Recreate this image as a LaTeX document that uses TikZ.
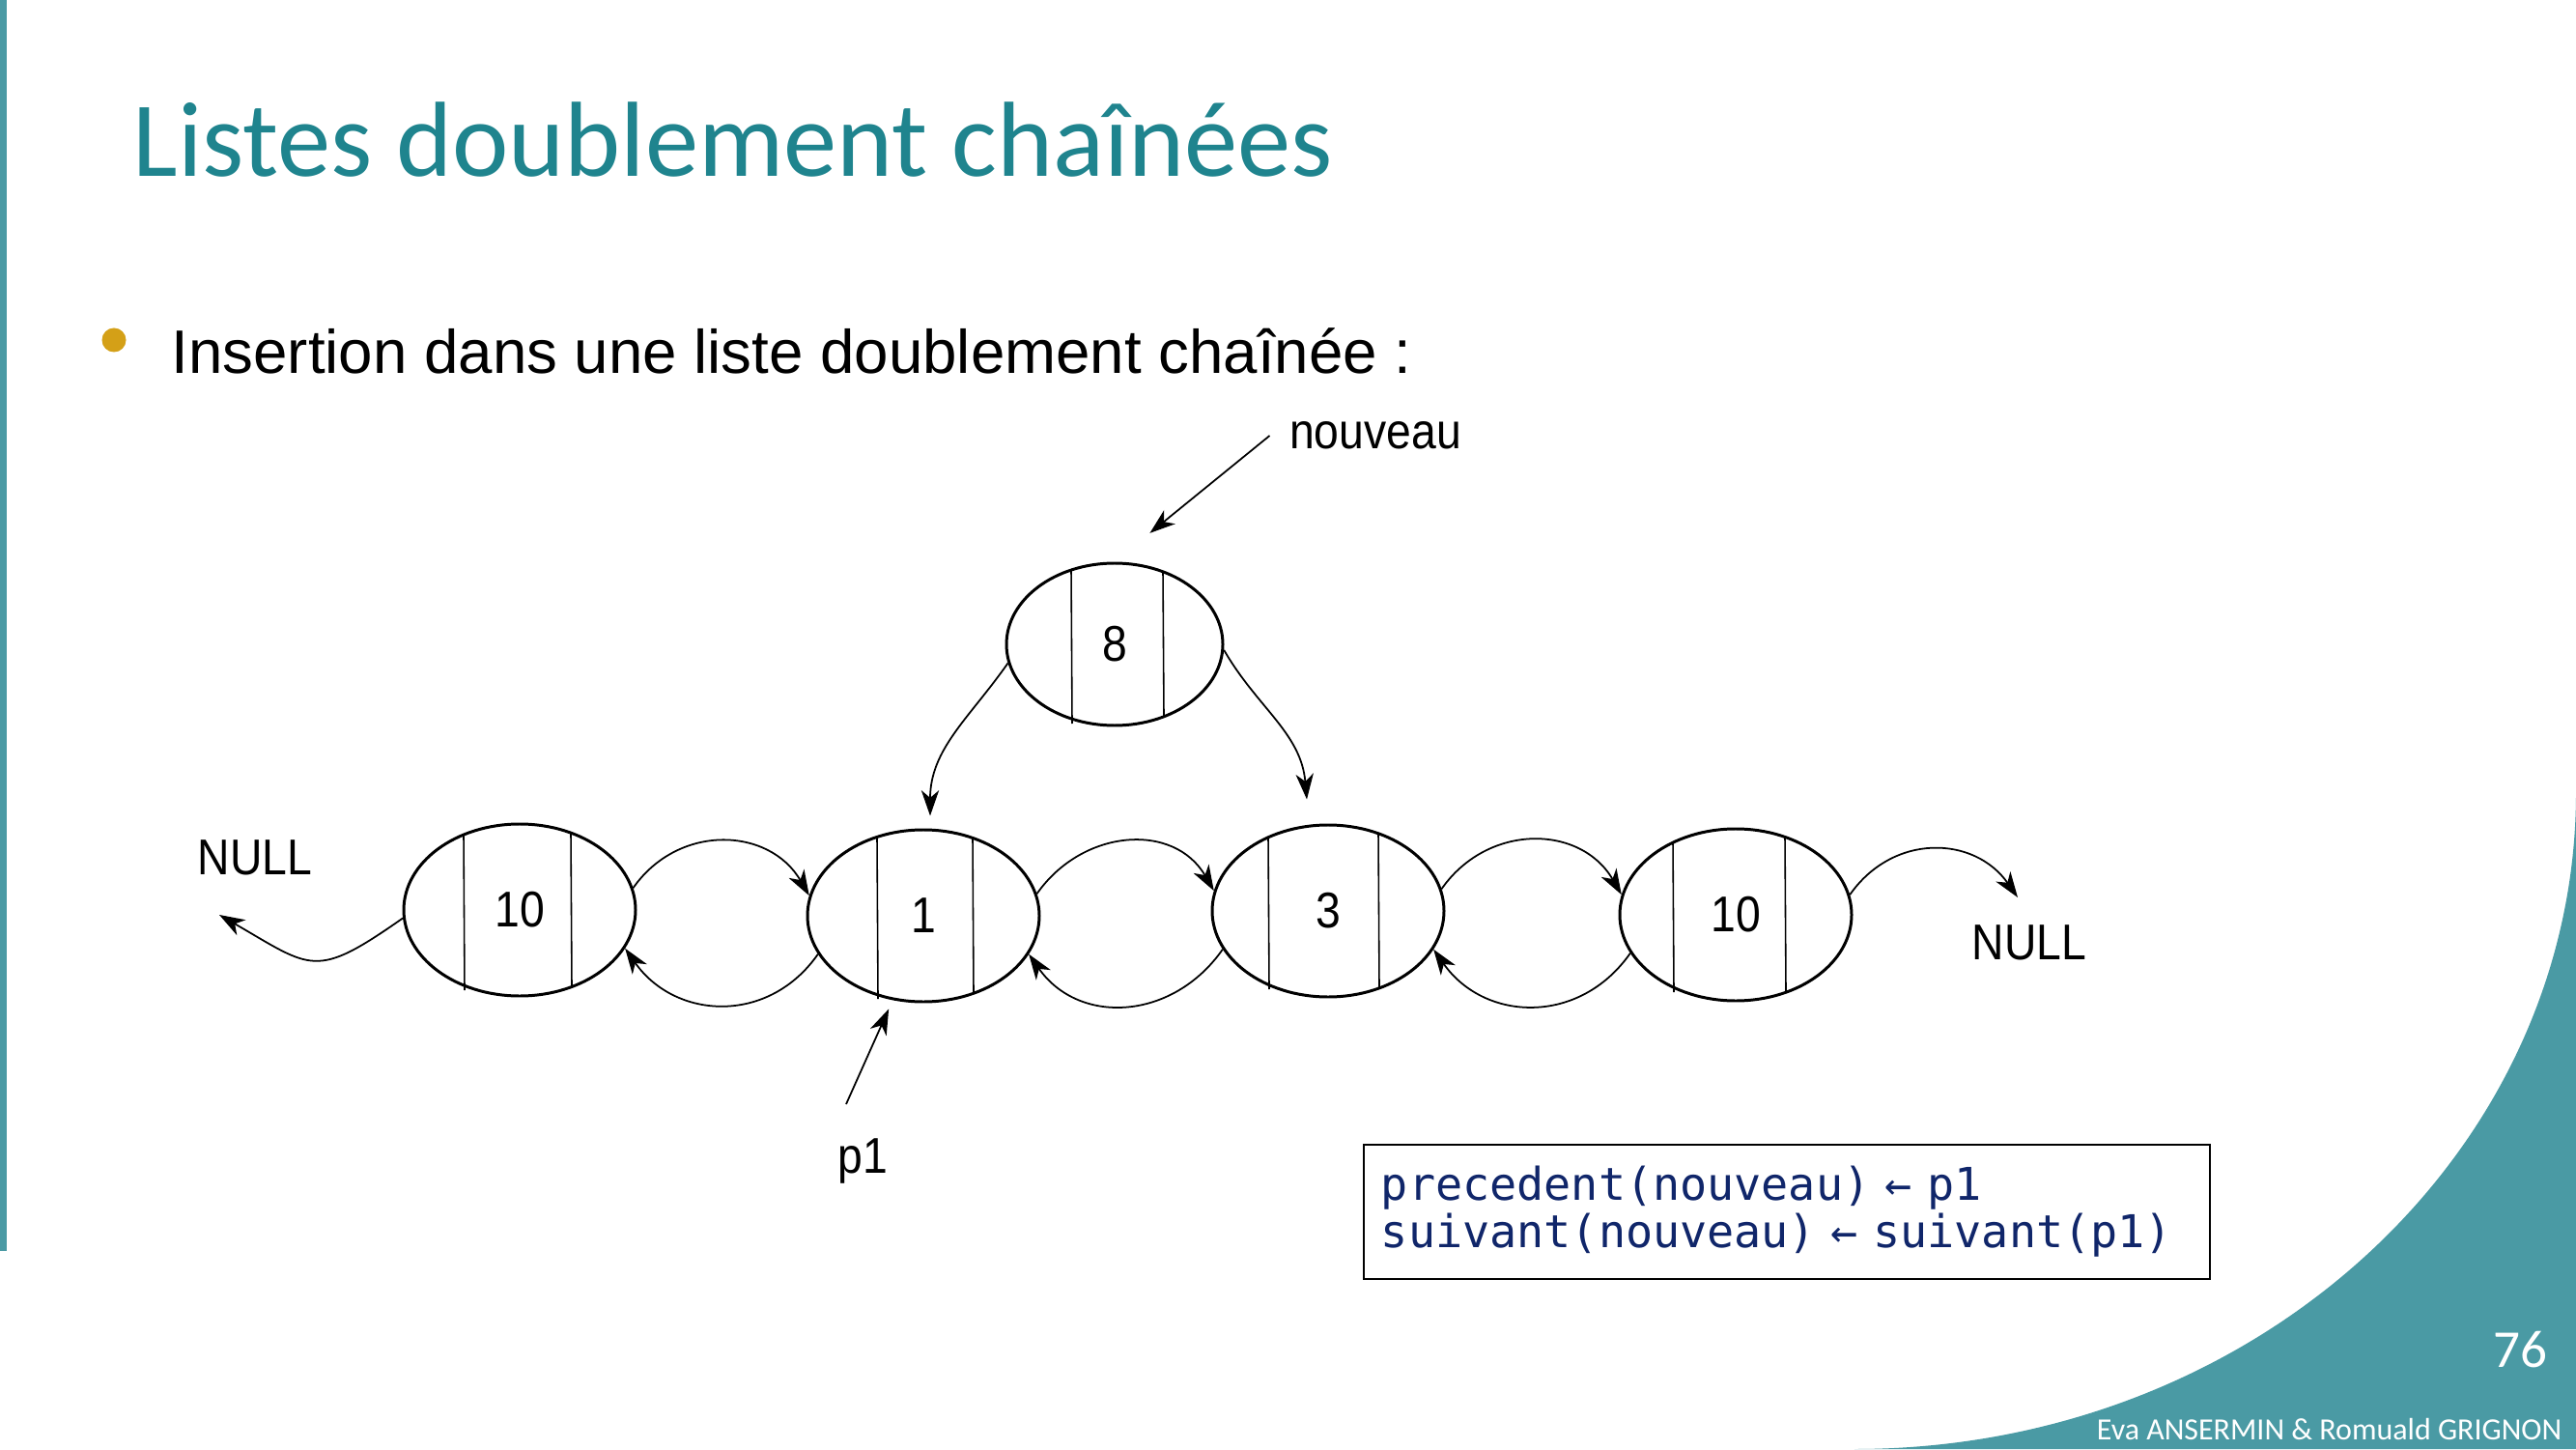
\documentclass[tikz,border=0pt]{standalone}
\usepackage{fontspec}
\setmainfont{Liberation Sans}
\newfontfamily\titlefont{Carlito}
\newfontfamily\helvfont[FakeStretch=0.89]{Liberation Sans}
\newfontfamily\bodyfont{Liberation Sans}
\newfontfamily\codefont{DejaVu Sans Mono}
\usetikzlibrary{shapes.geometric,arrows.meta,positioning,calc}
\definecolor{titleteal}{HTML}{1F848E}
\definecolor{barteal}{HTML}{4A9AA4}
\definecolor{bulletgold}{HTML}{D4A017}
\definecolor{codenavy}{HTML}{10266A}

\begin{document}
\begin{tikzpicture}[
  every node/.style={inner sep=0pt},
  %% ─── 節點樣式定義 ────────────────────────────────────────────────
  cell/.style={
    ellipse, draw=black, line width=0.85pt,
    minimum width=2.40cm, minimum height=1.78cm,
    font=\helvfont\fontsize{14.8}{16}\selectfont},
  smallcell/.style={cell, minimum width=2.24cm, minimum height=1.68cm},
  divider/.style={line width=0.45pt},
  lbl/.style={inner sep=0.2cm, font=\helvfont\fontsize{14.8}{16}\selectfont},
  codebox/.style={
    draw=black, line width=0.5pt, align=left, text=codenavy,
    minimum width=8.76cm, minimum height=1.39cm, text width=8.40cm, inner xsep=0.18cm,
    font=\codefont\fontsize{13.3}{14}\selectfont},
  link/.style={-{Stealth[length=7.5pt,width=5.2pt,inset=2.2pt]}, line width=0.5pt}
]

  %% ─── 0. 版面背景 ─────────────────────────────────────────────────
  \fill[white] (0,0) rectangle (26.67,15);
  \useasboundingbox (0,0) rectangle (26.67,15);
  \fill[barteal] (0,15) rectangle (0.07,2.05);
  \fill[barteal] (19.20,0) arc[start angle=-90, end angle=0, x radius=7.47cm, y radius=6.80cm] -- (26.67,0) -- cycle;

  %% ─── 1. 標題與項目 ───────────────────────────────────────────────
  \node[anchor=base west, text=titleteal, font=\titlefont\fontsize{31.45}{38}\selectfont] (title) at (1.37,13.17) {Listes doublement chaînées};
  \node[circle, fill=bulletgold, minimum size=0.25cm] (bullet) at (1.18,11.48) {};
  \node[anchor=base west, font=\bodyfont\fontsize{18.1}{21}\selectfont] (intro) at (1.77,11.13) {Insertion dans une liste doublement chaînée :};

  %% ─── 2. 鏈結串列節點 ─────────────────────────────────────────────
  \node[cell] (n10a) at (5.38,5.58) {10};
  \node[cell] (n1) at (9.56,5.52) {1};
  \node[cell] (n3) at (13.75,5.57) {3};
  \node[cell] (n10b) at (17.97,5.53) {10};
  \node[smallcell] (n8) at (11.54,8.33) {8};

  % 節點內的分隔線
  \foreach \n/\l/\lt/\r/\rt in {n10a/-0.58/0.78/0.53/0.80, n1/-0.48/0.81/0.51/0.80, n3/-0.62/0.76/0.52/0.80, n10b/-0.65/0.75/0.51/0.80, n8/-0.45/0.77/0.50/0.75} {
    \draw[divider] ($(\n.center)+(\l,\lt)$) -- ($(\n.center)+(\l+0.01,-\lt-0.05)$);
    \draw[divider] ($(\n.center)+(\r,\rt)$) -- ($(\n.center)+(\r+0.01,-\rt)$);
  }

  %% ─── 3. 標籤 ─────────────────────────────────────────────────────
  \node[lbl] (nullL) at (2.64,6.12) {NULL};
  \node[lbl] (nullR) at (21.01,5.24) {NULL};
  \node[lbl] (nouveau) at (14.24,10.49) {nouveau};
  \node[lbl] (p1) at (8.93,2.98) {p1};
  \coordinate (nullLend) at (2.27,5.53);
  \coordinate (nullRend) at (20.89,5.71);

  %% ─── 4. 指標連線 ─────────────────────────────────────────────────
  \foreach \a/\b in {n10a/n1, n1/n3, n3/n10b} {
    \draw[link, looseness=1.15] (\a.11) to[out=55, in=120] (\b.170);
    \draw[link, looseness=1.15] (\b.200) to[out=235, in=-55] (\a.-20);
  }
  \draw[link, looseness=1.15] (n10b.10) to[out=55, in=125] (nullRend);
  \draw[link, looseness=1.5] (n10a.184) to[out=215, in=-30] (nullLend);

  % 新節點的 precedent / suivant
  \draw[link] (n8.190) to[out=235, in=90] ([xshift=0.07cm,yshift=0.13cm]n1.north);
  \draw[link] (n8.-3) to[out=-60, in=95] ([xshift=-0.22cm,yshift=0.25cm]n3.north);

  % 外部指標
  \draw[link, shorten >=0.47cm] (nouveau.west) -- (n8.north);
  \draw[link, shorten >=0.1cm] ([xshift=-0.17cm,yshift=0.15cm]p1.north) -- (n1.250);

  %% ─── 5. 虛擬碼框 ─────────────────────────────────────────────────
  \node[codebox, anchor=north west] (code) at (14.11,3.16) {precedent(nouveau) ← p1\\suivant(nouveau) ← suivant(p1)};

  %% ─── 6. 頁腳 ─────────────────────────────────────────────────────
  \node[anchor=base east, text=white, font=\titlefont\fontsize{15.7}{18}\selectfont] (pagenum) at (26.38,0.85) {76};
  \node[anchor=base east, text=white, font=\titlefont\fontsize{9.1}{10}\selectfont] (authors) at (26.53,0.10) {Eva ANSERMIN \& Romuald GRIGNON};

\end{tikzpicture}
\end{document}
